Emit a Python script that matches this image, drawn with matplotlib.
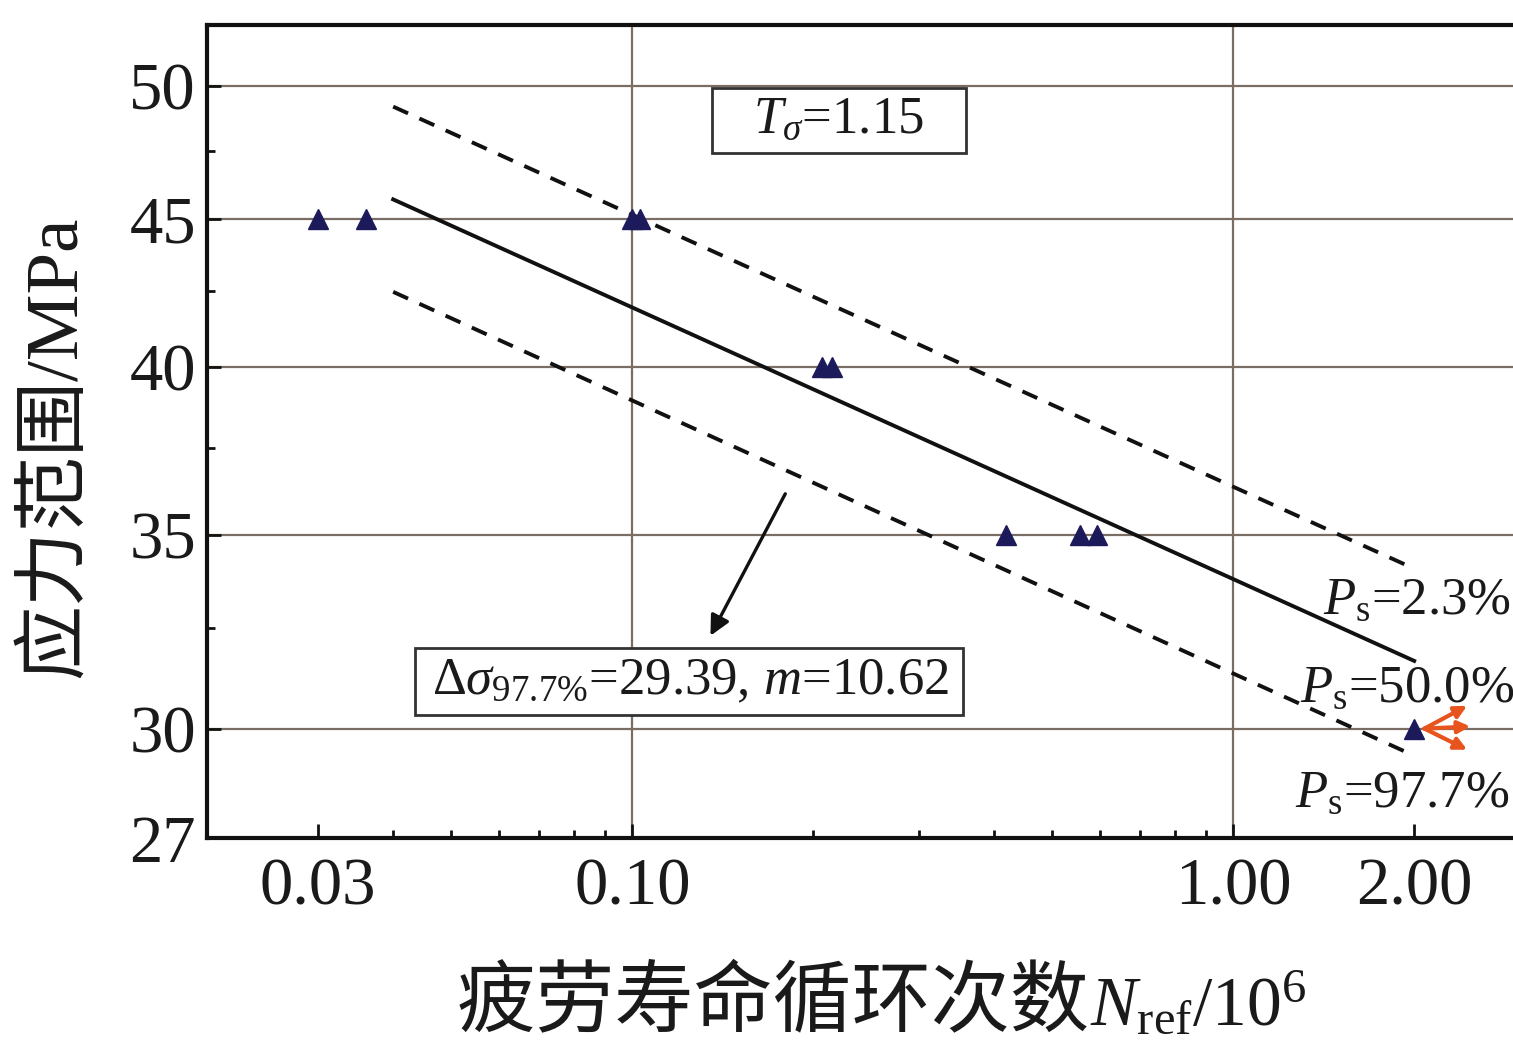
import numpy as np
import matplotlib
matplotlib.use("Agg")
import matplotlib.pyplot as plt
from matplotlib.patches import Rectangle
from matplotlib.ticker import FixedLocator, NullFormatter

plt.rcParams['font.family'] = ['Liberation Serif', 'Noto Sans CJK SC']
plt.rcParams['mathtext.fontset'] = 'custom'
plt.rcParams['mathtext.rm'] = 'Liberation Serif'
plt.rcParams['mathtext.it'] = 'Liberation Serif:italic'

# %% data
cycles = [0.030, 0.036, 0.100, 0.103, 0.207, 0.215, 0.419, 0.556, 0.594, 2.00]
stress = [45, 45, 45, 45, 40, 40, 35, 35, 35, 30]

line_n = [0.04, 2.0]
ps_23 = [49.2, 34.07]
ps_50 = [45.7, 31.66]
ps_977 = [42.46, 29.36]

runout_n = [2.45, 2.48, 2.45]
runout_s = [30.55, 30.05, 29.5]

x_ticks = [0.03, 0.10, 1.00, 2.00]
x_ticklabels = ['0.03', '0.10', '1.00', '2.00']
y_ticks = [27.5, 30, 35, 40, 45, 50]
y_ticklabels = ['27', '30', '35', '40', '45', '50']
x_grid = [0.1, 1.0]
y_grid = [30, 35, 40, 45, 50]

# %%
fig = plt.figure(figsize=(15.13, 10.45), dpi=100)
ax = fig.add_axes([207/1513, 207/1045, 1313/1513, 813/1045])
ax.set_xscale('log')
ax.set_yscale('log')
ax.set_xlim(0.0196, 3.0)
ax.set_ylim(27.5, 52.5)

grid_c = '#7a6e64'
for g in x_grid:
    ax.axvline(g, color=grid_c, lw=1.6, zorder=1)
for g in y_grid:
    ax.axhline(g, color=grid_c, lw=1.6, zorder=1)

ax.plot(line_n, ps_50, color='#111111', lw=2.8, zorder=3)
ax.plot(line_n, ps_23, color='#111111', lw=2.8, dashes=(4.2, 3.2), zorder=3)
ax.plot(line_n, ps_977, color='#111111', lw=2.8, dashes=(4.2, 3.2), zorder=3)

ax.plot(cycles, stress, linestyle='none', marker='^', ms=15, color='#1c1a5a', zorder=4)

for xn, ys in zip(runout_n, runout_s):
    ax.annotate('', xy=(xn, ys), xytext=(2.08, 30.0),
                arrowprops=dict(arrowstyle='-|>', color='#e8541e', lw=3,
                                mutation_scale=18, shrinkA=0, shrinkB=0), zorder=5)

# black arrow to the text box
ax.annotate('', xy=(0.1349, 32.3), xytext=(0.1797, 36.16),
            arrowprops=dict(arrowstyle='-|>', color='#111111', lw=2.4,
                            mutation_scale=30, shrinkA=0, shrinkB=0), zorder=5)

# boxed notes
ax.add_patch(Rectangle((0.3846, 0.8426), 0.1934, 0.0799, transform=ax.transAxes,
                       facecolor='white', edgecolor='#333333', lw=2, zorder=6))
ax.text(0.220, 48.7, r'$T_\sigma$=1.15', fontsize=38, ha='center', va='center',
        zorder=7, color='#1a1a1a')
ax.add_patch(Rectangle((0.1584, 0.1513), 0.4174, 0.0824, transform=ax.transAxes,
                       facecolor='white', edgecolor='#333333', lw=2, zorder=6))
ax.text(0.1249, 31.16, r'$\Delta\sigma_{97.7\%}$=29.39, $m$=10.62', fontsize=38,
        ha='center', va='center', zorder=7, color='#1a1a1a')

ax.text(1.41, 33.2, r'$P_{\rm s}$=2.3%', fontsize=38, ha='left', va='center', color='#1a1a1a', zorder=6)
ax.text(1.29, 30.96, r'$P_{\rm s}$=50.0%', fontsize=38, ha='left', va='center', color='#1a1a1a', zorder=6)
ax.text(1.268, 28.48, r'$P_{\rm s}$=97.7%', fontsize=38, ha='left', va='center', color='#1a1a1a', zorder=6)

# ticks
ax.xaxis.set_major_locator(FixedLocator(x_ticks))
ax.set_xticklabels(x_ticklabels)
ax.xaxis.set_minor_locator(FixedLocator([0.04, 0.05, 0.06, 0.07, 0.08, 0.09,
                                         0.2, 0.3, 0.4, 0.5, 0.6, 0.7, 0.8, 0.9]))
ax.xaxis.set_minor_formatter(NullFormatter())
ax.yaxis.set_major_locator(FixedLocator(y_ticks))
ax.set_yticklabels(y_ticklabels)
ax.yaxis.set_minor_locator(FixedLocator([32.5, 37.5, 42.5, 47.5]))
ax.yaxis.set_minor_formatter(NullFormatter())
ax.tick_params(which='both', direction='in', top=False, right=False, width=2, color='#111111')
ax.tick_params(which='major', length=10)
ax.tick_params(which='minor', length=6)
ax.tick_params(axis='x', which='major', labelsize=48, pad=14, labelcolor='#1a1a1a')
ax.tick_params(axis='y', which='major', labelsize=48, pad=8, labelcolor='#1a1a1a')

for s in ax.spines.values():
    s.set_linewidth(3)
    s.set_color('#111111')

ax.set_ylabel('应力范围/MPa', fontsize=54, color='#1a1a1a')
ax.yaxis.set_label_coords(-0.114, 0.481)
ax.yaxis.label.set_va('center')

# x label: CJK part and math part side by side
ax.text(0.6725, -0.230, '疲劳寿命循环次数', fontsize=57, ha='right', va='baseline',
        transform=ax.transAxes, color='#1a1a1a', clip_on=False)
ax.text(0.6725, -0.230, r'$N_{\rm ref}$/10$^6$', fontsize=50, ha='left', va='baseline',
        transform=ax.transAxes, color='#1a1a1a', clip_on=False)

fig.savefig('out.png', dpi=100)
